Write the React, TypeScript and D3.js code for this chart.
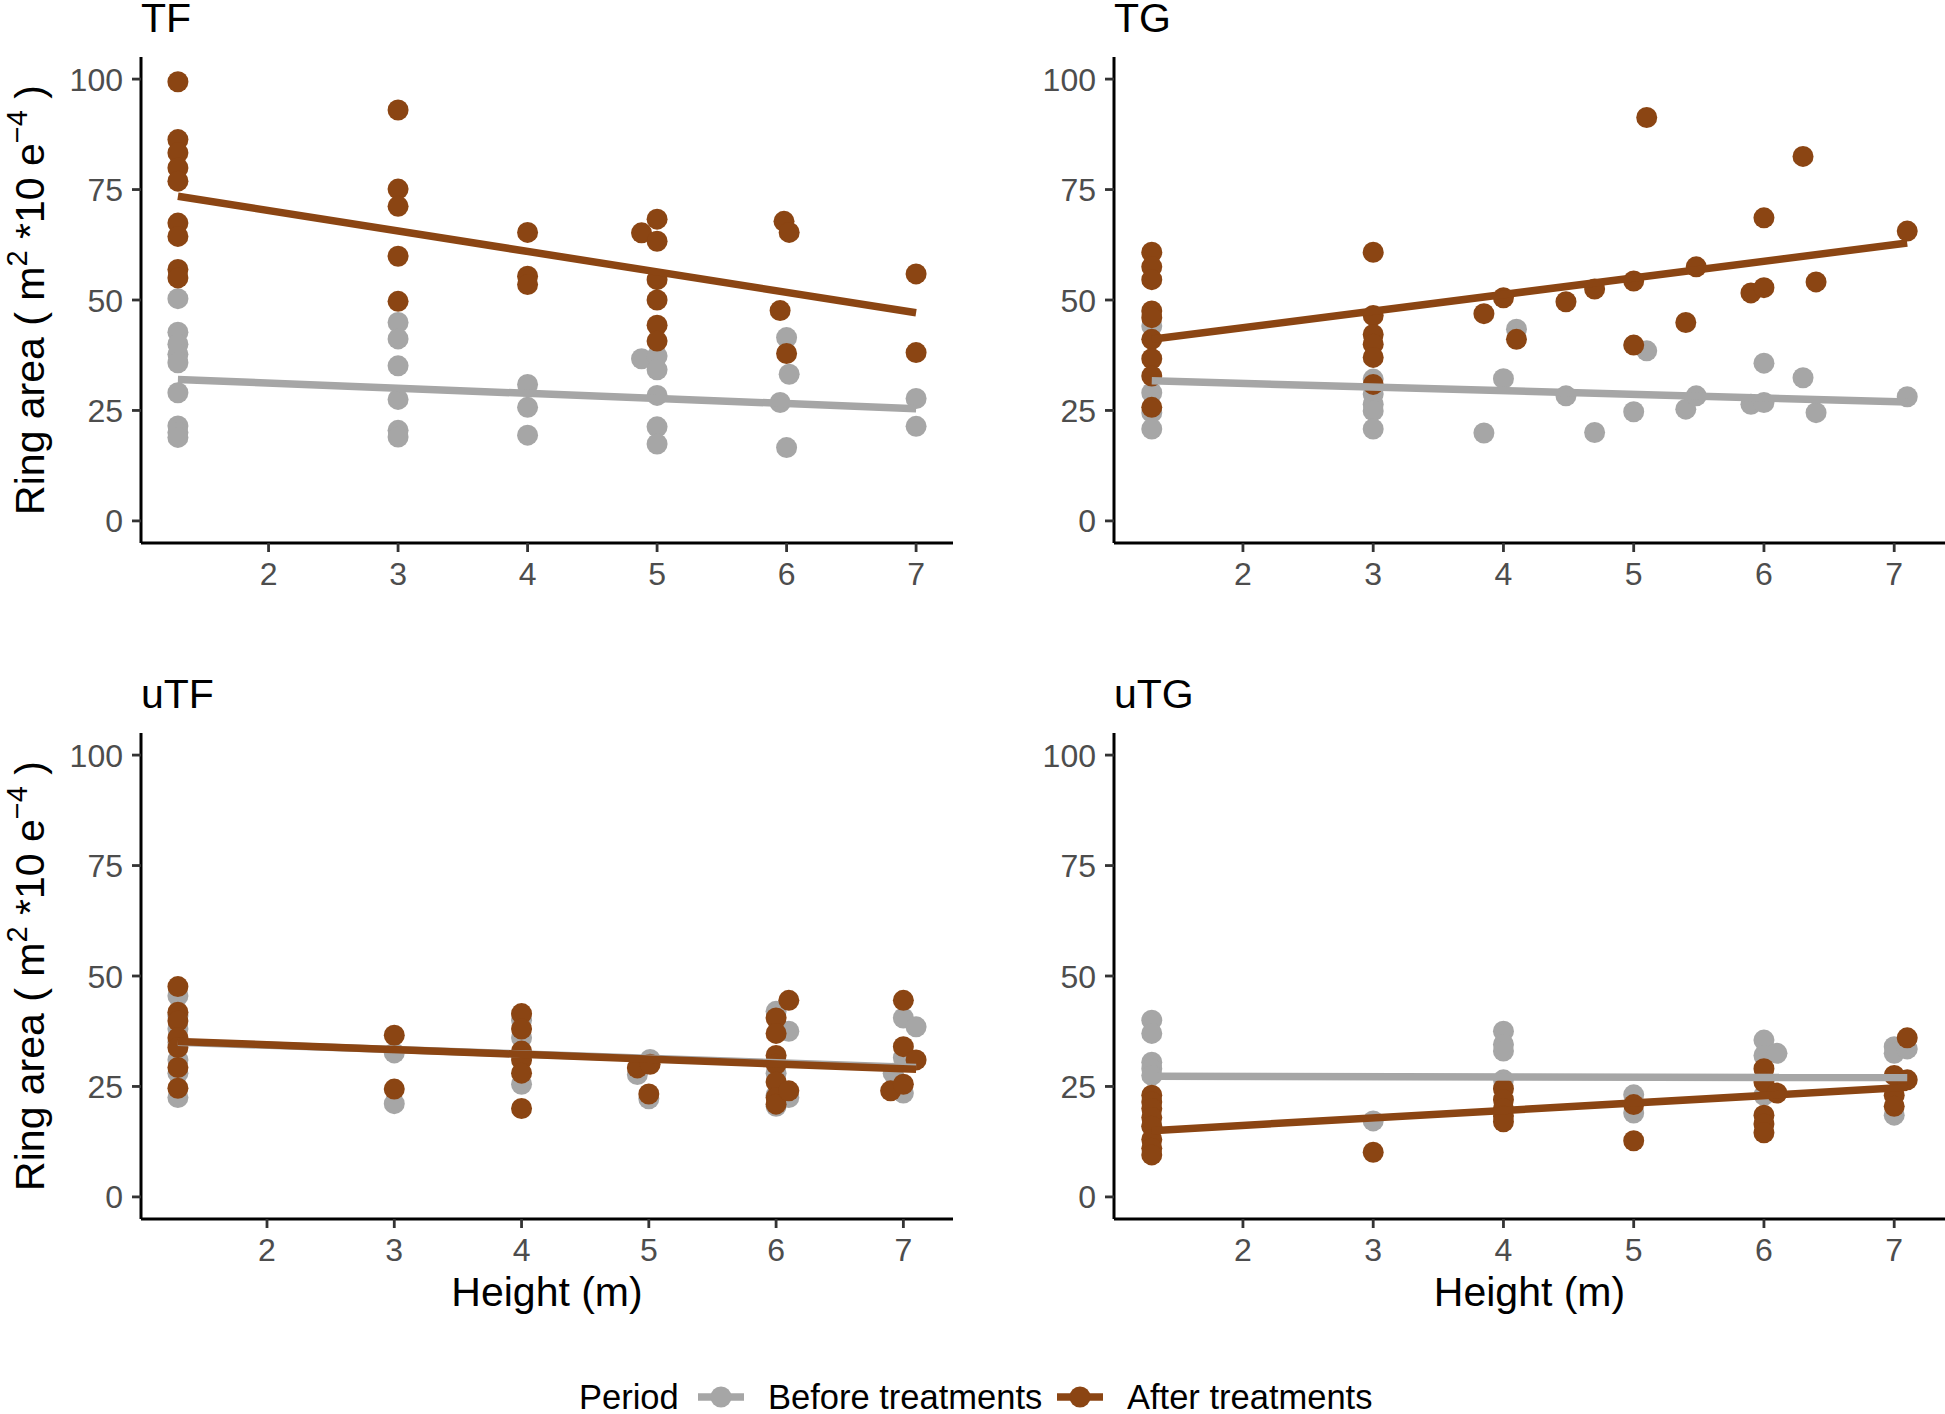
import React from "react";
import * as d3 from "d3";

// ---------- DATA (height in m, ring area in m^2 * 10e-4) ----------
type Pt = [number, number];

const panelTitles = ["TF", "TG", "uTF", "uTG"];
const xTicks = [2, 3, 4, 5, 6, 7];
const yTicks = [0, 25, 50, 75, 100];
const legendLabels = ["Before treatments", "After treatments"];

const tfBefore: Pt[] = [
  [1.3, 50.3], [1.3, 42.7], [1.3, 40.0], [1.3, 37.7], [1.3, 35.8], [1.3, 29.0], [1.3, 21.5], [1.3, 20.0], [1.3, 18.9],
  [3, 44.9], [3, 41.2], [3, 35.1], [3, 27.5], [3, 20.5], [3, 19.0],
  [4, 30.9], [4, 25.7], [4, 19.4],
  [4.88, 36.7], [5, 37.3], [5, 34.2], [5, 28.4], [5, 21.3], [5, 17.4],
  [6, 41.5], [6.02, 33.2], [5.95, 26.8], [6, 16.6],
  [7, 27.7], [7, 21.4],
];
const tfAfter: Pt[] = [
  [1.3, 99.4], [1.3, 86.3], [1.3, 83.3], [1.3, 79.9], [1.3, 76.9], [1.3, 67.4], [1.3, 64.4], [1.3, 56.9], [1.3, 55.0],
  [3, 93.0], [3, 75.1], [3, 71.2], [3, 59.9], [3, 49.7],
  [4, 65.3], [4, 55.4], [4, 53.5],
  [4.88, 65.2], [5, 68.3], [5, 63.3], [5, 54.6], [5, 50.0], [5, 44.3], [5, 40.7],
  [5.98, 67.8], [6.02, 65.3], [5.95, 47.6], [6, 37.9],
  [7, 55.9], [7, 38.1],
];
const tgBefore: Pt[] = [
  [1.3, 44.1], [1.3, 29.0], [1.3, 24.5], [1.3, 20.8],
  [3, 32.1], [3, 28.7], [3, 26.4], [3, 24.9], [3, 20.8],
  [3.85, 19.9], [4.0, 32.2], [4.1, 43.4], [4.48, 28.3], [4.7, 20.0],
  [5.0, 24.7], [5.1, 38.5], [5.4, 25.3], [5.48, 28.3],
  [5.9, 26.4], [6.0, 26.8], [6.0, 35.7], [6.3, 32.4], [6.4, 24.5], [7.1, 28.1],
];
const tgAfter: Pt[] = [
  [1.3, 60.8], [1.3, 57.5], [1.3, 54.6], [1.3, 47.5], [1.3, 46.0], [1.3, 41.1], [1.3, 36.7], [1.3, 32.8], [1.3, 25.7],
  [3, 60.8], [3, 46.5], [3, 42.2], [3, 40.0], [3, 37.0], [3, 30.9],
  [3.85, 46.9], [4.0, 50.5], [4.1, 41.1], [4.48, 49.6], [4.7, 52.5],
  [5.0, 54.3], [5.0, 39.8], [5.1, 91.3], [5.4, 44.9], [5.48, 57.5],
  [5.9, 51.6], [6.0, 52.8], [6.0, 68.6], [6.3, 82.5], [6.4, 54.1], [7.1, 65.6],
];
const utfBefore: Pt[] = [
  [1.3, 45.5], [1.3, 41.0], [1.3, 38.0], [1.3, 35.0], [1.3, 31.0], [1.3, 28.0], [1.3, 22.5],
  [3, 32.6], [3, 21.1],
  [4, 40.0], [4, 36.0], [4, 32.0], [4, 25.5],
  [4.91, 27.7], [5.01, 31.1], [5, 22.2],
  [6, 42.0], [6, 28.0], [6, 23.0], [6, 20.5], [6.1, 37.5], [6.1, 22.5],
  [6.92, 28.0], [7, 40.5], [7, 31.5], [7, 23.5], [7.1, 38.5],
];
const utfAfter: Pt[] = [
  [1.3, 47.6], [1.3, 41.8], [1.3, 39.8], [1.3, 36.0], [1.3, 33.8], [1.3, 29.3], [1.3, 24.6],
  [3, 36.6], [3, 24.4],
  [4, 41.5], [4, 38.0], [4, 33.0], [4, 31.0], [4, 28.0], [4, 20.0],
  [4.91, 29.2], [5.01, 30.0], [5, 23.3],
  [6, 40.5], [6, 37.0], [6, 32.0], [6, 30.0], [6, 26.0], [6, 22.5], [6, 21.0], [6.1, 44.5], [6.1, 24.0],
  [6.9, 24.0], [7, 44.5], [7, 34.0], [7, 25.5], [7.1, 31.0],
];
const utgBefore: Pt[] = [
  [1.3, 40.0], [1.3, 37.0], [1.3, 30.5], [1.3, 29.0], [1.3, 27.5], [1.3, 16.0],
  [3, 17.2],
  [4, 37.5], [4, 34.5], [4, 33.0], [4, 26.5],
  [5, 23.1], [5, 19.0],
  [6, 35.5], [6, 32.0], [6, 23.0], [6.1, 32.5],
  [7, 34.0], [7, 32.5], [7, 18.5], [7.1, 33.5],
];
const utgAfter: Pt[] = [
  [1.3, 23.0], [1.3, 21.5], [1.3, 20.0], [1.3, 18.0], [1.3, 16.0], [1.3, 13.0], [1.3, 11.0], [1.3, 9.5],
  [3, 10.1],
  [4, 24.5], [4, 22.0], [4, 20.0], [4, 18.3], [4, 17.0],
  [5, 20.9], [5, 12.7],
  [6, 29.0], [6, 26.0], [6, 18.5], [6, 16.5], [6, 14.5], [6.1, 23.5],
  [7, 27.5], [7, 23.0], [7, 20.5], [7.1, 36.0], [7.1, 26.5],
];

// fitted linear trends (start and end)
const tfBeforeFit: Pt[] = [[1.3, 32.0], [7, 25.4]];
const tfAfterFit: Pt[] = [[1.3, 73.5], [7, 47.1]];
const tgBeforeFit: Pt[] = [[1.3, 31.7], [7.1, 26.9]];
const tgAfterFit: Pt[] = [[1.3, 41.1], [7.1, 62.9]];
const utfBeforeFit: Pt[] = [[1.3, 35.0], [7.1, 29.3]];
const utfAfterFit: Pt[] = [[1.3, 35.2], [7.1, 28.9]];
const utgBeforeFit: Pt[] = [[1.3, 27.3], [7.1, 27.0]];
const utgAfterFit: Pt[] = [[1.3, 15.0], [7.1, 24.8]];

// ---------- STYLE ----------
const W = 1945;
const H = 1414;
const GRAY = "#A6A6A6";
const BROWN = "#8B4513";
const FONT = "'Liberation Sans', Arial, Helvetica, sans-serif";
const TICK_COLOR = "#333333";
const TICK_TEXT = "#4D4D4D";
const PT_R = 10.5;
const LINE_W = 7.5;

interface PanelProps {
  title: string;
  left: number;
  right: number;
  top: number;
  bottom: number;
  before: Pt[];
  after: Pt[];
  beforeFit: Pt[];
  afterFit: Pt[];
  showYTitle: boolean;
  showXTitle: boolean;
}

function expand(ext: [number, number], mult = 0.05): [number, number] {
  const r = ext[1] - ext[0];
  return [ext[0] - r * mult, ext[1] + r * mult];
}

function Panel(p: PanelProps) {
  const all = [...p.before, ...p.after];
  const xExt = d3.extent(all, (d) => d[0]) as [number, number];
  const x = d3.scaleLinear().domain(expand(xExt)).range([p.left, p.right]);
  const y = d3.scaleLinear().domain(expand([0, 100])).range([p.bottom, p.top]);
  const line = d3
    .line<Pt>()
    .x((d) => x(d[0]))
    .y((d) => y(d[1]));
  const tickLen = 9;
  const midY = (p.top + p.bottom) / 2;
  const midX = (p.left + p.right) / 2;
  return (
    <g>
      <text x={p.left} y={y(100) - 47} fontSize={41} fontFamily={FONT} fill="#000">
        {p.title}
      </text>
      {p.before.map((d, i) => (
        <circle key={"b" + i} cx={x(d[0])} cy={y(d[1])} r={PT_R} fill={GRAY} />
      ))}
      {p.after.map((d, i) => (
        <circle key={"a" + i} cx={x(d[0])} cy={y(d[1])} r={PT_R} fill={BROWN} />
      ))}
      <path d={line(p.beforeFit) || ""} stroke={GRAY} strokeWidth={LINE_W} fill="none" />
      <path d={line(p.afterFit) || ""} stroke={BROWN} strokeWidth={LINE_W} fill="none" />
      {/* axes */}
      <line x1={p.left} x2={p.left} y1={p.top} y2={p.bottom} stroke="#000" strokeWidth={3} />
      <line x1={p.left} x2={p.right} y1={p.bottom} y2={p.bottom} stroke="#000" strokeWidth={3} />
      {yTicks.map((t) => (
        <g key={"y" + t}>
          <line x1={p.left - tickLen} x2={p.left} y1={y(t)} y2={y(t)} stroke={TICK_COLOR} strokeWidth={2.8} />
          <text
            x={p.left - tickLen - 9}
            y={y(t)}
            dy="0.36em"
            textAnchor="end"
            fontSize={32}
            fontFamily={FONT}
            fill={TICK_TEXT}
          >
            {t}
          </text>
        </g>
      ))}
      {xTicks.map((t) => (
        <g key={"x" + t}>
          <line x1={x(t)} x2={x(t)} y1={p.bottom} y2={p.bottom + tickLen} stroke={TICK_COLOR} strokeWidth={2.8} />
          <text x={x(t)} y={p.bottom + 42} textAnchor="middle" fontSize={32} fontFamily={FONT} fill={TICK_TEXT}>
            {t}
          </text>
        </g>
      ))}
      {p.showYTitle && (
        <text
          transform={`translate(44, ${midY}) rotate(-90)`}
          textAnchor="middle"
          fontSize={41}
          fontFamily={FONT}
          fill="#000"
        >
          <tspan>Ring area ( m</tspan>
          <tspan fontSize={29} dy={-17}>2</tspan>
          <tspan dy={17}> *10 e</tspan>
          <tspan fontSize={29} dy={-17}>−4</tspan>
          <tspan dy={17}> )</tspan>
        </text>
      )}
      {p.showXTitle && (
        <text x={midX} y={p.bottom + 87} textAnchor="middle" fontSize={41} fontFamily={FONT} fill="#000">
          Height (m)
        </text>
      )}
    </g>
  );
}

export default function App() {
  const L = { left: 141, right: 953 };
  const R = { left: 1114, right: 1945 };
  const T = { top: 57, bottom: 543 };
  const B = { top: 733, bottom: 1219 };
  const legendY = 1397;
  const keys = [
    { cx: 721, color: GRAY, label: legendLabels[0], tx: 768 },
    { cx: 1080, color: BROWN, label: legendLabels[1], tx: 1127 },
  ];
  return (
    <svg
      width={W}
      height={H}
      viewBox={`0 0 ${W} ${H}`}
      style={{ position: "absolute", left: 0, top: 0, background: "#fff" }}
    >
      <rect width={W} height={H} fill="#fff" />
      <Panel title={panelTitles[0]} {...L} {...T} before={tfBefore} after={tfAfter}
        beforeFit={tfBeforeFit} afterFit={tfAfterFit} showYTitle showXTitle={false} />
      <Panel title={panelTitles[1]} {...R} {...T} before={tgBefore} after={tgAfter}
        beforeFit={tgBeforeFit} afterFit={tgAfterFit} showYTitle={false} showXTitle={false} />
      <Panel title={panelTitles[2]} {...L} {...B} before={utfBefore} after={utfAfter}
        beforeFit={utfBeforeFit} afterFit={utfAfterFit} showYTitle showXTitle />
      <Panel title={panelTitles[3]} {...R} {...B} before={utgBefore} after={utgAfter}
        beforeFit={utgBeforeFit} afterFit={utgAfterFit} showYTitle={false} showXTitle />
      <text x={579} y={legendY + 12} fontSize={34.5} fontFamily={FONT} fill="#000">
        Period
      </text>
      {keys.map((k) => (
        <g key={k.label}>
          <line x1={k.cx - 23} x2={k.cx + 23} y1={legendY} y2={legendY} stroke={k.color} strokeWidth={LINE_W} />
          <circle cx={k.cx} cy={legendY} r={PT_R} fill={k.color} />
          <text x={k.tx} y={legendY + 12} fontSize={34.5} fontFamily={FONT} fill="#000">
            {k.label}
          </text>
        </g>
      ))}
    </svg>
  );
}
